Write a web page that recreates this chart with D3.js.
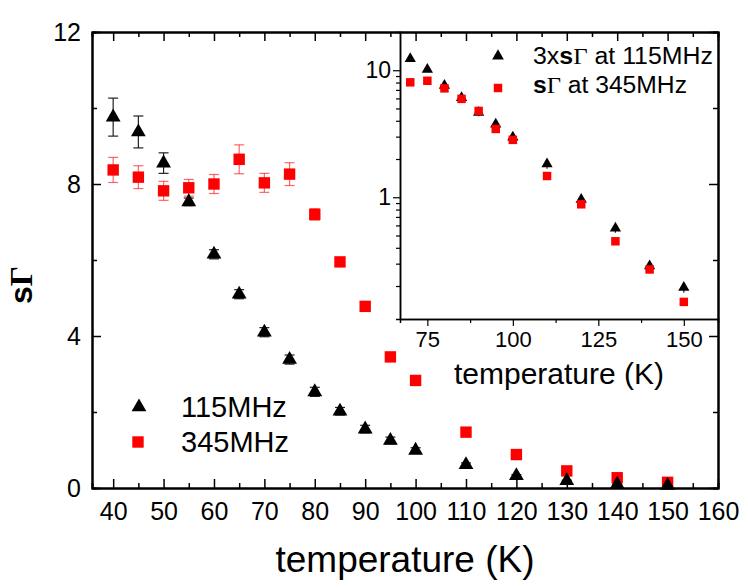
<!DOCTYPE html>
<html>
<head>
<meta charset="utf-8">
<script src="https://cdn.jsdelivr.net/npm/d3@7"></script>
<style>
  body { margin: 0; background: #fff; }
  svg { display: block; font-family: "Liberation Sans", Arial, sans-serif; }
</style>
</head>
<body>
<svg id="chart" width="748" height="588"></svg>
<script>
// temperatures (K)
const temps = [40, 45, 50, 55, 60, 65, 70, 75, 80, 85, 90, 95, 100, 110, 120, 130, 140, 150];
// sΓ at 115 MHz and its error
const s115 = [9.76, 9.37, 8.55, 7.53, 6.15, 5.1, 4.1, 3.38, 2.53, 2.02, 1.55, 1.25, 0.99, 0.61, 0.32, 0.19, 0.096, 0.065];
const e115 = [0.5, 0.42, 0.27, 0.1, 0.12, 0.12, 0.12, 0.12, 0.12, 0.1, 0.1, 0.09, 0.07, 0.05, 0.03, 0.015, 0.008, 0.006];
// sΓ at 345 MHz and its error
const s345 = [8.37, 8.18, 7.82, 7.9, 8.0, 8.65, 8.03, 8.26, 7.2, 5.95, 4.78, 3.45, 2.83, 1.47, 0.88, 0.45, 0.27, 0.15];
const e345 = [0.33, 0.3, 0.25, 0.22, 0.25, 0.38, 0.25, 0.3, 0.15, 0.06, 0.05, 0.04, 0.04, 0.03, 0.02, 0.01, 0.008, 0.005];

const xTicks = [40, 50, 60, 70, 80, 90, 100, 110, 120, 130, 140, 150, 160];
const yTicks = [0, 4, 8, 12];
const insetXTicks = [75, 100, 125, 150];
const insetYTicks = [1, 10];
const insetFrom = 70;   // inset shows T >= 70 K
const factor115 = 3;    // inset plots 3 x sΓ(115MHz)

const svg = d3.select('#chart');
const red = '#ff0000';
const redErr = 'rgba(255,0,0,0.6)';

const rows = temps.map((t, i) => ({ t, a: s115[i], ea: e115[i], b: s345[i], eb: e345[i] }));

// ---------- main plot ----------
const m = { left: 92, right: 718, top: 32, bottom: 488 };
const x = d3.scaleLinear().domain([35.8, 160]).range([m.left, m.right]);
const y = d3.scaleLinear().domain([0, 12]).range([m.bottom, m.top]);

const tri = d3.symbol().type(d3.symbolTriangle);
const sq = d3.symbol().type(d3.symbolSquare);

function errBars(g, data, xs, ys, val, err, color, cap) {
    const eb = g.append('g').attr('stroke', color).attr('stroke-width', 1.2);
    data.forEach(d => {
        const cx = xs(d.t), y1 = ys(val(d) + err(d)), y2 = ys(Math.max(val(d) - err(d), ys.domain()[0]));
        eb.append('line').attr('x1', cx).attr('x2', cx).attr('y1', y1).attr('y2', y2);
        if (cap) {
            eb.append('line').attr('x1', cx - cap).attr('x2', cx + cap).attr('y1', y1).attr('y2', y1);
            eb.append('line').attr('x1', cx - cap).attr('x2', cx + cap).attr('y1', y2).attr('y2', y2);
        }
    });
}

const main = svg.append('g');
errBars(main, rows, x, y, d => d.b, d => d.eb, redErr, 5);
errBars(main, rows, x, y, d => d.a, d => d.ea, '#222', 5);

main.selectAll('.sq').data(rows).enter().append('path')
    .attr('d', sq.size(130)())
    .attr('transform', d => `translate(${x(d.t)},${y(d.b)})`)
    .attr('fill', red);
main.selectAll('.tri').data(rows).enter().append('path')
    .attr('d', tri.size(95)())
    .attr('transform', d => `translate(${x(d.t)},${y(d.a)})`)
    .attr('fill', '#000');

// legend
main.append('path').attr('d', tri.size(95)()).attr('transform', 'translate(139,407)');
main.append('path').attr('d', sq.size(130)()).attr('transform', 'translate(138,442)').attr('fill', red);
main.append('text').attr('x', 181).attr('y', 417).attr('font-size', 29).text('115MHz');
main.append('text').attr('x', 181).attr('y', 452).attr('font-size', 29).text('345MHz');

// ---------- inset ----------
const n = { left: 400, right: 718, top: 32, bottom: 319 };
const xi = d3.scaleLinear().domain([67, 160]).range([n.left, n.right]);
const yi = d3.scaleLog().domain([0.11, 20]).range([n.bottom, n.top]);
const insetRows = rows.filter(d => d.t >= insetFrom);

const inset = svg.append('g');
errBars(inset, insetRows, xi, yi, d => factor115 * d.a, d => factor115 * d.ea, '#222', 0);
inset.selectAll('.tri').data(insetRows).enter().append('path')
    .attr('d', tri.size(55)())
    .attr('transform', d => `translate(${xi(d.t)},${yi(factor115 * d.a)})`)
    .attr('fill', '#000');
inset.selectAll('.sq').data(insetRows).enter().append('path')
    .attr('d', sq.size(72)())
    .attr('transform', d => `translate(${xi(d.t)},${yi(d.b)})`)
    .attr('fill', red);

inset.append('path').attr('d', tri.size(60)()).attr('transform', 'translate(498,56)');
inset.append('path').attr('d', sq.size(72)()).attr('transform', 'translate(498,88)').attr('fill', red);

const l1 = inset.append('text').attr('x', 533).attr('y', 64).attr('font-size', 23)
    .attr('textLength', 180).attr('lengthAdjust', 'spacingAndGlyphs');
l1.append('tspan').text('3x');
l1.append('tspan').attr('font-weight', 'bold').text('s');
l1.append('tspan').attr('font-family', '"Liberation Serif", serif').text('Γ');
l1.append('tspan').text(' at 115MHz');
const l2 = inset.append('text').attr('x', 533).attr('y', 93).attr('font-size', 23)
    .attr('textLength', 154).attr('lengthAdjust', 'spacingAndGlyphs');
l2.append('tspan').attr('font-weight', 'bold').text('s');
l2.append('tspan').attr('font-family', '"Liberation Serif", serif').text('Γ');
l2.append('tspan').text(' at 345MHz');

// inset axes (ticks outward)
const ixAxis = inset.append('g').attr('transform', `translate(0,${n.bottom})`)
    .call(d3.axisBottom(xi).tickValues(insetXTicks).tickSizeInner(7).tickSizeOuter(0).tickPadding(5));
inset.append('g').attr('transform', `translate(0,${n.bottom})`)
    .call(d3.axisBottom(xi).tickValues([87.5, 112.5, 137.5]).tickSize(4).tickFormat(''));
const minorLog = [0.2, 0.3, 0.4, 0.5, 0.6, 0.7, 0.8, 0.9, 2, 3, 4, 5, 6, 7, 8, 9];
const iyAxis = inset.append('g').attr('transform', `translate(${n.left},0)`)
    .call(d3.axisLeft(yi).tickValues(insetYTicks).tickFormat(d3.format('d')).tickSizeInner(7).tickSizeOuter(0).tickPadding(2));
inset.append('g').attr('transform', `translate(${n.left},0)`)
    .call(d3.axisLeft(yi).tickValues(minorLog).tickSize(4).tickFormat(''));
ixAxis.selectAll('text').attr('font-size', 22);
iyAxis.selectAll('text').attr('font-size', 23);
inset.selectAll('.domain').attr('stroke-width', 1.5);
inset.selectAll('.tick line').attr('stroke-width', 1.2);
inset.selectAll('text').attr('font-family', null);

inset.append('text').attr('x', (n.left + n.right) / 2).attr('y', 384)
    .attr('text-anchor', 'middle').attr('font-size', 30).text('temperature (K)');

// ---------- main axes (ticks inward, mirrored) ----------
const axes = svg.append('g');
const minorX = d3.range(45, 160, 10);
const minorY = [2, 6, 10];
const bx = axes.append('g').attr('transform', `translate(0,${m.bottom})`)
    .call(d3.axisBottom(x).tickValues(xTicks).tickSizeInner(-9).tickSizeOuter(0).tickPadding(14));
axes.append('g').attr('transform', `translate(0,${m.bottom})`)
    .call(d3.axisBottom(x).tickValues(minorX).tickSize(-5).tickFormat(''));
axes.append('g').attr('transform', `translate(0,${m.top})`)
    .call(d3.axisTop(x).tickValues(xTicks).tickSizeInner(-9).tickSizeOuter(0).tickFormat(''));
axes.append('g').attr('transform', `translate(0,${m.top})`)
    .call(d3.axisTop(x).tickValues(minorX).tickSize(-5).tickFormat(''));
const ly = axes.append('g').attr('transform', `translate(${m.left},0)`)
    .call(d3.axisLeft(y).tickValues(yTicks).tickSizeInner(-9).tickSizeOuter(0).tickPadding(11));
axes.append('g').attr('transform', `translate(${m.left},0)`)
    .call(d3.axisLeft(y).tickValues(minorY).tickSize(-5).tickFormat(''));
axes.append('g').attr('transform', `translate(${m.right},0)`)
    .call(d3.axisRight(y).tickValues(yTicks).tickSizeInner(-9).tickSizeOuter(0).tickFormat(''));
axes.append('g').attr('transform', `translate(${m.right},0)`)
    .call(d3.axisRight(y).tickValues(minorY).tickSize(-5).tickFormat(''));
axes.selectAll('.domain').attr('stroke-width', 2);
axes.selectAll('.tick line').attr('stroke-width', 1.5);
bx.selectAll('text').attr('font-size', 25);
ly.selectAll('text').attr('font-size', 25);
axes.selectAll('text').attr('font-family', null);

axes.append('text').attr('x', (m.left + m.right) / 2).attr('y', 572)
    .attr('text-anchor', 'middle').attr('font-size', 37).text('temperature (K)');

const yl = axes.append('text').attr('transform', 'translate(32,285) rotate(-90)')
    .attr('text-anchor', 'middle').attr('font-size', 32).attr('font-weight', 'bold');
yl.append('tspan').text('s');
yl.append('tspan').attr('font-family', '"Liberation Serif", serif').text('Γ');
</script>
</body>
</html>
